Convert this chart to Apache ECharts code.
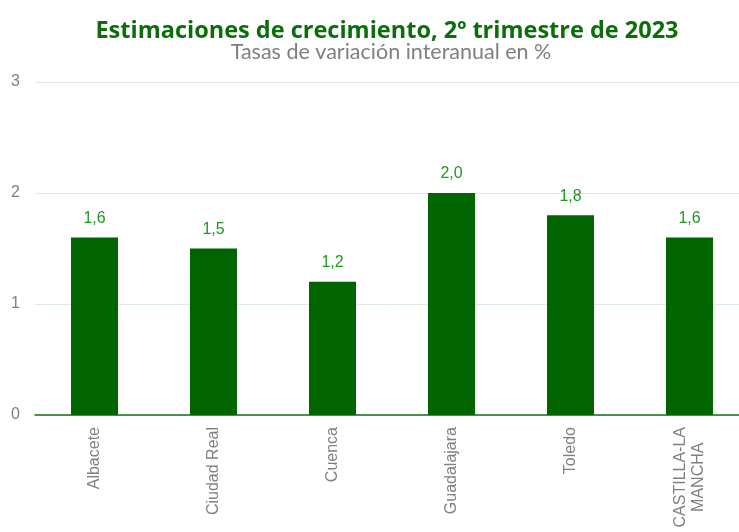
<!DOCTYPE html>
<html>
<head>
<meta charset="utf-8">
<script src="https://cdn.jsdelivr.net/npm/echarts@6/dist/echarts.min.js"></script>
<style>
    html, body { margin: 0; padding: 0; background: #fff; }
    #chart { width: 739px; height: 532px; }
</style>
</head>
<body>
<div id="chart"></div>
<script>
    // provincias y valores (tasa interanual, %)
    var provincias = ['Albacete', 'Ciudad Real', 'Cuenca', 'Guadalajara', 'Toledo', 'CASTILLA-LA\nMANCHA'];
    var tasas = [1.6, 1.5, 1.2, 2.0, 1.8, 1.6];
    var ticksY = [0, 1, 2, 3];

    var chart = echarts.init(document.getElementById('chart'));

    var option = {
        backgroundColor: '#fff',
        animation: false,
        title: [
            {
                text: 'Estimaciones de crecimiento, 2º trimestre de 2023',
                left: 382,
                top: 14,
                textAlign: 'center',
                textStyle: {
                    color: '#0b6e0b',
                    fontFamily: 'Open Sans',
                    fontWeight: 'bold',
                    fontSize: 23.5
                }
            },
            {
                text: 'Tasas de variación interanual en %',
                left: 386,
                top: 36,
                textAlign: 'center',
                textStyle: {
                    color: '#7f7f7f',
                    fontFamily: 'Lato',
                    fontWeight: 'normal',
                    fontSize: 21.5
                }
            }
        ],
        grid: {
            left: 35,
            width: 714,
            top: 82,
            bottom: 117,
            outerBoundsMode: 'none',
            containLabel: false
        },
        xAxis: {
            type: 'category',
            data: provincias,
            axisLine: { lineStyle: { color: '#177017', width: 1.5 } },
            axisTick: { show: false },
            axisLabel: {
                rotate: 90,
                margin: 12,
                color: '#808080',
                fontFamily: 'Liberation Sans',
                fontSize: 16,
                formatter: function (v) {
                    return v.split('\n').map(function (s) { return '{c|' + s + '}'; }).join('\n');
                },
                rich: {
                    c: {
                        align: 'center',
                        color: '#808080',
                        fontFamily: 'Liberation Sans',
                        fontSize: 16,
                        lineHeight: 18
                    }
                }
            }
        },
        yAxis: {
            type: 'value',
            min: ticksY[0],
            max: ticksY[ticksY.length - 1],
            interval: 1,
            axisLine: { show: false },
            axisTick: { show: false },
            axisLabel: {
                margin: 15,
                color: '#808080',
                fontFamily: 'Liberation Sans',
                fontSize: 16
            },
            splitLine: { lineStyle: { color: '#dcebdc', width: 1 } }
        },
        series: [{
            type: 'bar',
            data: tasas,
            barWidth: '39.5%',
            itemStyle: { color: '#006400' },
            label: {
                show: true,
                position: 'top',
                distance: 11,
                color: '#1f9a1f',
                fontFamily: 'Liberation Sans',
                fontSize: 16,
                formatter: function (p) {
                    return p.value.toFixed(1).replace('.', ',');
                }
            }
        }]
    };

    chart.setOption(option);
</script>
</body>
</html>
